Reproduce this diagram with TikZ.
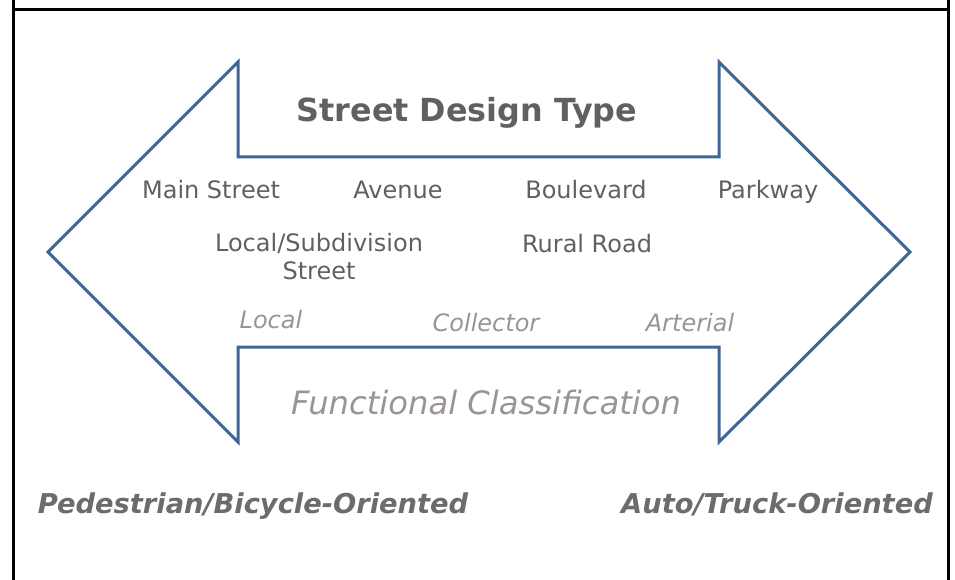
\documentclass[tikz,border=0pt]{standalone}
\usepackage{fontspec}
\setmainfont{DejaVu Sans}
\usepackage{xcolor}
\definecolor{arrowblue}{RGB}{63,101,149}
\definecolor{typegray}{RGB}{96,96,96}
\definecolor{classgray}{RGB}{155,147,155}
\definecolor{endgray}{RGB}{108,108,108}

\begin{document}
\begin{tikzpicture}[x=1pt,y=-1pt,
    frameline/.style={draw=black, line width=3pt},
    bigarrow/.style={draw=arrowblue, line width=3pt, line join=miter},
    streettype/.style={anchor=base, inner sep=0pt, text=typegray, font=\fontsize{24}{28}\selectfont, align=center},
    classlabel/.style={anchor=base, inner sep=0pt, text=classgray, font=\fontsize{24}{28}\selectfont\itshape},
    endlabel/.style={anchor=base, inner sep=0pt, text=endgray, font=\fontsize{27.3}{32}\selectfont\bfseries\itshape}]
    \useasboundingbox (0,0) rectangle (955,580);

    % frame
    \draw[frameline] (13,0) -- (13,580);
    \draw[frameline] (948,0) -- (948,580);
    \draw[frameline] (13,10) -- (948,10);

    % double arrow
    \draw[bigarrow] (48,252) -- (238,62) -- (238,157) -- (719,157) -- (719,62)
        -- (910,252) -- (719,442) -- (719,347) -- (238,347) -- (238,442) -- cycle;

    \node[anchor=base, inner sep=0pt, text=typegray, font=\fontsize{31.8}{36}\selectfont\bfseries] (title) at (467,122) {Street Design Type};

    \node[streettype] (mainst) at (211,199) {Main Street};
    \node[streettype] (avenue) at (398,199) {Avenue};
    \node[streettype] (boulevard) at (586,199) {Boulevard};
    \node[streettype] (parkway) at (768,199) {Parkway};
    \node[streettype] (localsub) at (319,279) {Local/Subdivision\\Street};
    \node[streettype] (rural) at (587,252) {Rural Road};

    \node[classlabel] (local) at (271,328) {Local};
    \node[classlabel] (collector) at (486,331) {Collector};
    \node[classlabel] (arterial) at (690,331) {Arterial};
    \node[anchor=base, inner sep=0pt, text=classgray, font=\fontsize{32.2}{36}\selectfont\itshape] (funcclass) at (486,414) {Functional Classification};

    \node[endlabel] (pedbike) at (253,513) {Pedestrian/Bicycle-Oriented};
    \node[endlabel] (autotruck) at (777,513) {Auto/Truck-Oriented};
\end{tikzpicture}
\end{document}
